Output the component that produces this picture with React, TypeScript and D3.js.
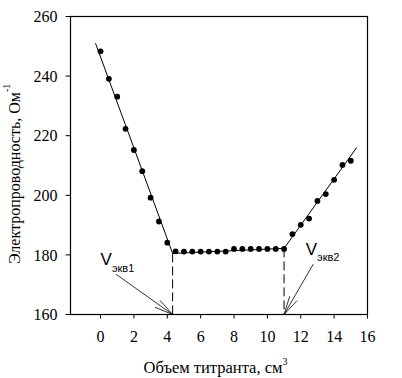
import React from "react";
import * as d3 from "d3";

// Measured titration points
const volume = [0, 0.5, 1, 1.5, 2, 2.5, 3, 3.5, 4,
  4.5, 5, 5.5, 6, 6.5, 7, 7.5, 8, 8.5, 9, 9.5, 10, 10.5, 11,
  11.5, 12, 12.5, 13, 13.5, 14, 14.5, 15];
const conductivity = [248.3, 239.1, 233.1, 222.3, 215.2, 208.1, 199.2, 191.2, 184.1,
  181.2, 181.1, 181.1, 181.1, 181.1, 181.1, 181.1, 182.0, 182.0, 182.0, 182.0, 182.0, 182.0, 182.0,
  187.0, 190.1, 192.2, 198.1, 200.4, 205.2, 210.2, 211.6];

// Fitted line segments (break points)
const fitX = [-0.3, 4.32, 11.0, 15.35];
const fitY = [251, 180.5, 182.2, 216];

// Equivalence points
const eqX = [4.32, 11.0];
const eqY = [180.5, 182.2];
const eqLabels = ["экв1", "экв2"];
const arrowStartX = [0.93, 12.75];
const arrowStartY = [173.5, 176.9];
const labelX = [0.0, 12.3];
const labelY = [176.6, 180.0];

const xTicks = [0, 2, 4, 6, 8, 10, 12, 14, 16];
const yTicks = [160, 180, 200, 220, 240, 260];

export default function App() {
  const left = 70.5, right = 367.5, top = 16.5, bottom = 314.5;
  const x = d3.scaleLinear().domain([-1.8, 16]).range([left, right]);
  const y = d3.scaleLinear().domain([160, 260]).range([bottom, top]);
  const line = d3.line<number>().x((_, i) => x(fitX[i])).y((d) => y(d));

  const serif = "'Liberation Serif', 'Times New Roman', serif";
  const sans = "'Liberation Sans', Arial, sans-serif";

  const arrowHeads = eqX.map((ex, i) => {
    const tx = x(ex), ty = y(160);
    const sx = x(arrowStartX[i]), sy = y(arrowStartY[i]);
    const ang = Math.atan2(sy - ty, sx - tx);
    const L = 19, da = (13 * Math.PI) / 180;
    return {
      tx, ty, sx, sy,
      h1: [tx + L * Math.cos(ang + da), ty + L * Math.sin(ang + da)],
      h2: [tx + L * Math.cos(ang - da), ty + L * Math.sin(ang - da)],
    };
  });

  return (
    <svg width={402} height={378} style={{ position: "absolute", left: 0, top: 0, background: "#fff" }}>
      {/* frame */}
      <rect x={left} y={top} width={right - left} height={bottom - top} fill="none" stroke="#000" strokeWidth={1.2} />
      {/* x ticks */}
      {xTicks.map((t) => (
        <g key={"x" + t}>
          <line x1={x(t)} x2={x(t)} y1={bottom} y2={bottom + 4} stroke="#000" strokeWidth={1} />
          <text x={x(t)} y={341.5} textAnchor="middle" fontFamily={serif} fontSize={16}>{t}</text>
        </g>
      ))}
      {/* y ticks */}
      {yTicks.map((t) => (
        <g key={"y" + t}>
          <line x1={left - 5} x2={left} y1={y(t)} y2={y(t)} stroke="#000" strokeWidth={1} />
          <text x={57.5} y={y(t)} dy="0.35em" textAnchor="end" fontFamily={serif} fontSize={16}>{t}</text>
        </g>
      ))}
      {/* axis titles */}
      <text x={143.5} y={373} fontFamily={serif} fontSize={16.5}>
        Объем титранта, см<tspan dy={-8} fontSize={10}>3</tspan>
      </text>
      <text transform="translate(20,264) rotate(-90)" fontFamily={serif} fontSize={16}>
        Электропроводность, Ом<tspan dy={-10} fontSize={10}>-1</tspan>
      </text>
      {/* fitted lines */}
      <path d={line(fitY) || ""} fill="none" stroke="#000" strokeWidth={1} />
      {/* dashed verticals */}
      {eqX.map((ex, i) => (
        <line key={"d" + i} x1={x(ex)} x2={x(ex)} y1={y(eqY[i])} y2={y(160)} stroke="#000" strokeWidth={1} strokeDasharray="9,4" />
      ))}
      {/* points */}
      {volume.map((v, i) => (
        <circle key={"p" + i} cx={x(v)} cy={y(conductivity[i])} r={2.9} fill="#000" />
      ))}
      {/* arrows */}
      {arrowHeads.map((a, i) => (
        <g key={"a" + i} stroke="#000" strokeWidth={0.8}>
          <line x1={a.sx} y1={a.sy} x2={a.tx} y2={a.ty} />
          <line x1={a.tx} y1={a.ty} x2={a.h1[0]} y2={a.h1[1]} />
          <line x1={a.tx} y1={a.ty} x2={a.h2[0]} y2={a.h2[1]} />
        </g>
      ))}
      {/* labels */}
      {eqLabels.map((lab, i) => (
        <text key={"l" + i} x={x(labelX[i])} y={y(labelY[i])} fontFamily={sans} fontSize={17}>
          V<tspan dy={6.5} fontSize={11}>{lab}</tspan>
        </text>
      ))}
    </svg>
  );
}
